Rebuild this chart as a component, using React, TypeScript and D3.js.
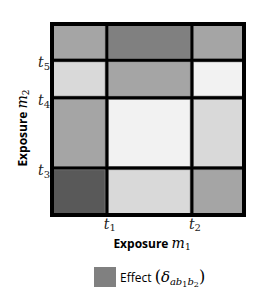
import React, { useRef, useEffect } from 'react';
import * as d3 from 'd3';

// thresholds of the two exposures (arbitrary units)
const xCuts = [0, 1, 2.55, 3.5];
const yCuts = [0, 1, 2.5, 3.3, 4.07];
const xTickLabels = ['1', '2']; // t1, t2
const yTickLabels = ['3', '4', '5']; // t3, t4, t5

// effect level per cell, rows from bottom to top, columns left to right
const effectRows = [
    [4, 1, 2],
    [2, 0, 1],
    [1, 2, 0],
    [2, 3, 2],
];
const levels = [0, 1, 2, 3, 4];
const greys = ['#f2f2f2', '#d9d9d9', '#a5a5a5', '#808080', '#595959'];

const App = () => {
    const svgRef = useRef<SVGSVGElement>(null);

    useEffect(() => {
        const width = 264, height = 300;
        const svg = d3.select(svgRef.current)
            .attr('width', width)
            .attr('height', height);
        svg.selectAll('*').remove();

        const x = d3.scaleLinear().domain([xCuts[0], xCuts[xCuts.length - 1]]).range([52, 244]);
        const y = d3.scaleLinear().domain([yCuts[0], yCuts[yCuts.length - 1]]).range([215, 24]);
        const colour = d3.scaleOrdinal<number, string>().domain(levels).range(greys);

        const cells = effectRows.flatMap((row, i) => row.map((v, j) => ({ i, j, v })));

        const g = svg.append('g');

        g.selectAll('.cell')
            .data(cells)
            .enter()
            .append('rect')
            .attr('class', 'cell')
            .attr('x', d => x(xCuts[d.j]))
            .attr('y', d => y(yCuts[d.i + 1]))
            .attr('width', d => x(xCuts[d.j + 1]) - x(xCuts[d.j]))
            .attr('height', d => y(yCuts[d.i]) - y(yCuts[d.i + 1]))
            .attr('fill', d => colour(d.v))
            .attr('stroke', '#8c8c8c')
            .attr('stroke-width', 4);

        // inner grid lines
        g.selectAll('.vline')
            .data(xCuts.slice(1, -1))
            .enter()
            .append('line')
            .attr('x1', d => x(d)).attr('x2', d => x(d))
            .attr('y1', y.range()[0]).attr('y2', y.range()[1])
            .attr('stroke', '#000').attr('stroke-width', 3);

        g.selectAll('.hline')
            .data(yCuts.slice(1, -1))
            .enter()
            .append('line')
            .attr('y1', d => y(d)).attr('y2', d => y(d))
            .attr('x1', x.range()[0]).attr('x2', x.range()[1])
            .attr('stroke', '#000').attr('stroke-width', 3);

        // outer frame
        g.append('rect')
            .attr('x', x.range()[0])
            .attr('y', y.range()[1])
            .attr('width', x.range()[1] - x.range()[0])
            .attr('height', y.range()[0] - y.range()[1])
            .attr('fill', 'none')
            .attr('stroke', '#000')
            .attr('stroke-width', 4);

        const serif = '"DejaVu Serif", serif';
        const sans = '"Open Sans", "Liberation Sans", sans-serif';

        // x tick labels t1, t2
        const xt = g.selectAll('.xtick')
            .data(xCuts.slice(1, -1))
            .enter()
            .append('text')
            .attr('x', d => x(d) - 3)
            .attr('y', 229)
            .attr('font-family', serif)
            .attr('font-style', 'italic')
            .attr('font-size', 14)
            .attr('fill', '#222');
        xt.append('tspan').text('t');
        xt.append('tspan').attr('dy', 2).attr('font-size', 10).attr('font-style', 'normal').text((d, i) => xTickLabels[i]);

        // y tick labels t3, t4, t5
        const yt = g.selectAll('.ytick')
            .data(yCuts.slice(1, -1))
            .enter()
            .append('text')
            .attr('x', 38)
            .attr('y', d => y(d) + 7)
            .attr('font-family', serif)
            .attr('font-style', 'italic')
            .attr('font-size', 14)
            .attr('fill', '#222');
        yt.append('tspan').text('t');
        yt.append('tspan').attr('dy', 3).attr('font-size', 10).attr('font-style', 'normal').text((d, i) => yTickLabels[i]);

        // axis titles
        const xTitle = g.append('text')
            .attr('x', 152)
            .attr('y', 248)
            .attr('text-anchor', 'middle')
            .attr('font-family', sans)
            .attr('font-weight', 'bold')
            .attr('font-size', 12)
            .attr('fill', '#000');
        xTitle.append('tspan').text('Exposure ');
        xTitle.append('tspan').attr('font-family', serif).attr('font-style', 'italic').attr('font-weight', 'normal').attr('font-size', 14).text('m');
        xTitle.append('tspan').attr('dy', 2).attr('font-family', serif).attr('font-weight', 'normal').attr('font-size', 9).text('1');

        const yTitle = g.append('text')
            .attr('transform', 'translate(27, 128) rotate(-90)')
            .attr('text-anchor', 'middle')
            .attr('font-family', sans)
            .attr('font-weight', 'bold')
            .attr('font-size', 12)
            .attr('fill', '#000');
        yTitle.append('tspan').text('Exposure ');
        yTitle.append('tspan').attr('font-family', serif).attr('font-style', 'italic').attr('font-weight', 'normal').attr('font-size', 14).text('m');
        yTitle.append('tspan').attr('dy', 2).attr('font-family', serif).attr('font-weight', 'normal').attr('font-size', 9).text('2');

        // legend
        g.append('rect')
            .attr('x', 94).attr('y', 267)
            .attr('width', 22).attr('height', 20)
            .attr('fill', colour(3));

        const leg = g.append('text')
            .attr('x', 120)
            .attr('y', 282)
            .attr('font-family', sans)
            .attr('font-size', 12)
            .attr('fill', '#000');
        leg.append('tspan').text('Effect ');
        leg.append('tspan').attr('font-family', serif).attr('font-size', 16).text('(');
        leg.append('tspan').attr('font-family', serif).attr('font-style', 'italic').attr('font-size', 15).text('δ');
        leg.append('tspan').attr('dy', 3).attr('font-family', serif).attr('font-style', 'italic').attr('font-size', 10).text('ab');
        leg.append('tspan').attr('dy', 2).attr('font-family', serif).attr('font-size', 8).text('1');
        leg.append('tspan').attr('dy', -2).attr('font-family', serif).attr('font-style', 'italic').attr('font-size', 10).text('b');
        leg.append('tspan').attr('dy', 2).attr('font-family', serif).attr('font-size', 8).text('2');
        leg.append('tspan').attr('dy', -5).attr('font-family', serif).attr('font-size', 16).text(')');
    }, []);

    return (
        <svg ref={svgRef} style={{ position: 'absolute', left: 0, top: 0 }}></svg>
    );
};

export default App;
